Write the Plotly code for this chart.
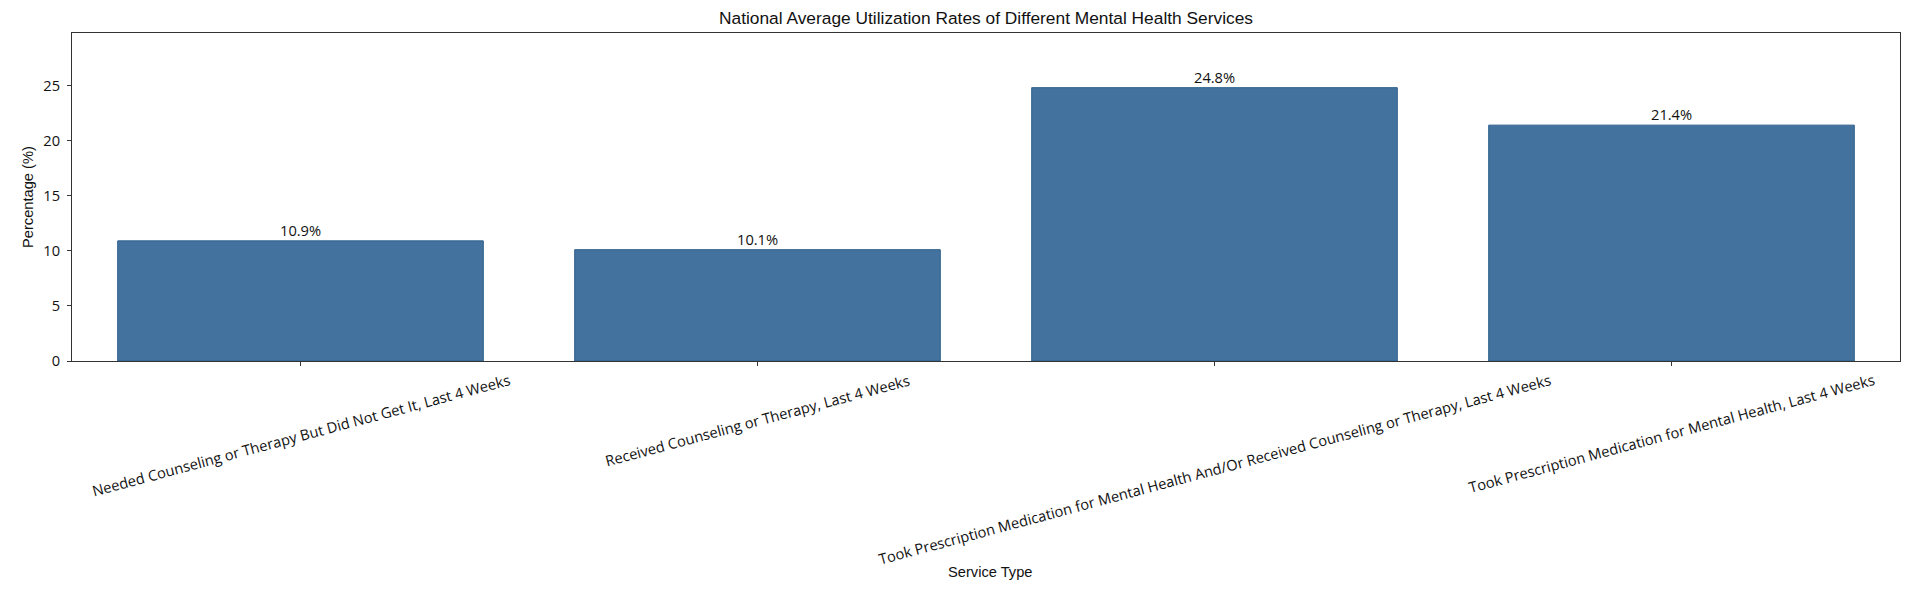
import plotly.graph_objects as go

categories = [
    "Needed Counseling or Therapy But Did Not Get It, Last 4 Weeks",
    "Received Counseling or Therapy, Last 4 Weeks",
    "Took Prescription Medication for Mental Health And/Or Received Counseling or Therapy, Last 4 Weeks",
    "Took Prescription Medication for Mental Health, Last 4 Weeks",
]
values = [10.9, 10.1, 24.8, 21.4]
yticks = [0, 5, 10, 15, 20, 25]

# page body has an 8px margin; figure sized so the plot area lands where the reference has it
W, H = 1902, 586
ML, MR, MT, MB = 64, 10, 25, 233
PW, PH = W - ML - MR, H - MT - MB

OPEN = "Open Sans, Noto Sans, sans-serif"
ARIAL = "Liberation Sans, Arial, sans-serif"
FS = 14.67

fig = go.Figure()
fig.add_trace(go.Bar(
    x=list(range(len(categories))),
    y=values,
    width=0.8,
    marker=dict(color="#44729e", line=dict(color="#2d5f8c", width=1)),
    hoverinfo="skip",
))

# value labels above bars
for i, v in enumerate(values):
    fig.add_annotation(
        x=i, y=v, xref="x", yref="y",
        text=f"{v:.1f}%", showarrow=False,
        xanchor="center", yanchor="bottom", yshift=-1,
        font=dict(family=OPEN, size=FS, color="#111111"),
    )

# rotated category labels, centred under each tick
for i, c in enumerate(categories):
    fig.add_annotation(
        x=i, y=0, xref="x", yref="paper",
        text=c, showarrow=False, textangle=-15,
        xanchor="center", yanchor="top", yshift=-6,
        font=dict(family=OPEN, size=FS, color="#111111"),
    )

# axis titles
fig.add_annotation(
    x=(990 - 8 - ML) / PW, y=-(572 - 361) / PH, xref="paper", yref="paper",
    text="Service Type", showarrow=False, xanchor="center", yanchor="middle",
    font=dict(family=ARIAL, size=FS, color="#111111"),
)
fig.add_annotation(
    x=-(72 - 28) / PW, y=0.5, xref="paper", yref="paper",
    text="Percentage (%)", showarrow=False, textangle=-90,
    xanchor="center", yanchor="middle",
    font=dict(family=ARIAL, size=FS, color="#111111"),
)

fig.update_layout(
    width=W, height=H,
    margin=dict(l=ML, r=MR, t=MT, b=MB, pad=0),
    paper_bgcolor="white", plot_bgcolor="white",
    showlegend=False,
    title=dict(
        text="National Average Utilization Rates of Different Mental Health Services",
        x=(ML + PW / 2) / W, xanchor="center", y=1 - (18 - 8) / H, yanchor="middle",
        font=dict(family=ARIAL, size=17.33, color="#111111"),
    ),
    xaxis=dict(
        range=[-0.5, 3.5], tickvals=list(range(len(categories))), ticktext=[""] * len(categories),
        ticks="outside", ticklen=4, tickcolor="#333333",
        showline=True, linecolor="#333333", linewidth=1, mirror=True,
        showgrid=False, zeroline=False,
    ),
    yaxis=dict(
        range=[0, 29.76], tickvals=yticks,
        ticks="outside", ticklen=4, tickcolor="#333333",
        ticklabelstandoff=4,
        tickfont=dict(family=OPEN, size=FS, color="#111111"),
        showline=True, linecolor="#333333", linewidth=1, mirror=True,
        showgrid=False, zeroline=False,
    ),
)

fig.write_html("out.html")
